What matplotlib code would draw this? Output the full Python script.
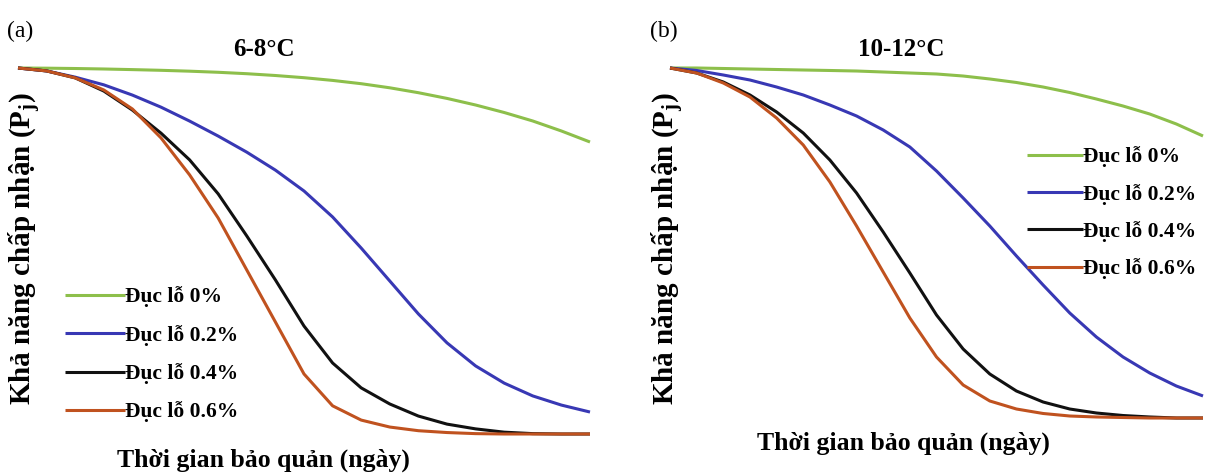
import matplotlib
matplotlib.use("Agg")
import matplotlib.pyplot as plt

# thoi gian bao quan (ngay) - truc x khong co vach chia
ngay = [0, 2, 4, 6, 8, 10, 12, 14, 16, 18, 20, 22, 24, 26, 28, 30, 32, 34, 36, 38, 40]

nhan = ["Đục lỗ 0%", "Đục lỗ 0.2%", "Đục lỗ 0.4%", "Đục lỗ 0.6%"]
mau = ["#8DBF4B", "#3838B4", "#111111", "#C0521F"]

# (a) 6-8oC
pa_0 = [1.000, 0.9995, 0.9986, 0.9973, 0.9956, 0.9937, 0.9913, 0.9883, 0.9844, 0.9795, 0.9735,
        0.9661, 0.9571, 0.9459, 0.9325, 0.9169, 0.8989, 0.8784, 0.8552, 0.8279, 0.7978]
pa_02 = [1.000, 0.992, 0.975, 0.954, 0.926, 0.893, 0.855, 0.814, 0.770, 0.721, 0.664,
         0.593, 0.508, 0.418, 0.328, 0.249, 0.186, 0.139, 0.104, 0.079, 0.060]
pa_04 = [1.000, 0.992, 0.973, 0.937, 0.885, 0.822, 0.749, 0.656, 0.541, 0.421, 0.295,
         0.194, 0.126, 0.082, 0.049, 0.027, 0.014, 0.005, 0.001, 0.0, 0.0]
pa_06 = [1.000, 0.992, 0.973, 0.940, 0.888, 0.809, 0.708, 0.590, 0.448, 0.306, 0.164,
         0.077, 0.038, 0.019, 0.009, 0.004, 0.001, 0.0, 0.0, 0.0, 0.0]

# (b) 10-12oC
pb_0 = [1.000, 1.000, 0.9986, 0.9971, 0.9957, 0.9943, 0.9929, 0.9914, 0.9886, 0.9857, 0.9829,
        0.9771, 0.9686, 0.9586, 0.9457, 0.930, 0.9114, 0.8914, 0.8686, 0.840, 0.8057]
pb_02 = [1.000, 0.9929, 0.980, 0.9657, 0.9457, 0.9229, 0.8943, 0.8629, 0.8229, 0.7743, 0.7057,
         0.6286, 0.5486, 0.4629, 0.380, 0.300, 0.2314, 0.1743, 0.1286, 0.0914, 0.0629]
pb_04 = [1.000, 0.9857, 0.960, 0.9229, 0.8743, 0.8143, 0.7371, 0.6429, 0.5314, 0.4143, 0.2943,
         0.1971, 0.1257, 0.0771, 0.0457, 0.0257, 0.0143, 0.0071, 0.0029, 0.0, 0.0]
pb_06 = [1.000, 0.9857, 0.9571, 0.9171, 0.8571, 0.780, 0.6743, 0.5486, 0.4171, 0.2857, 0.1743,
         0.0943, 0.0486, 0.0257, 0.0129, 0.0057, 0.0029, 0.0014, 0.0, 0.0, 0.0]

plt.rcParams['font.family'] = ['Liberation Serif', 'DejaVu Serif']
plt.rcParams['font.weight'] = 'bold'
plt.rcParams['mathtext.fontset'] = 'custom'
plt.rcParams['mathtext.rm'] = 'Liberation Serif:bold'
plt.rcParams['mathtext.it'] = 'Liberation Serif:bold'

W, H = 1218, 476
fig = plt.figure(figsize=(W / 100, H / 100), dpi=100)
ax1 = fig.add_axes([18 / W, 1 - 434 / H, 572 / W, 366 / H])
ax2 = fig.add_axes([670 / W, 1 - 418 / H, 533 / W, 350 / H])

def ve(ax, series, legend_xy, hl, ls):
    for y, lab, c in zip(series, nhan, mau):
        ax.plot(ngay, y, color=c, lw=2.2, label=lab, clip_on=False,
                solid_capstyle='butt', solid_joinstyle='round')
    ax.set_xlim(0, 40)
    ax.set_ylim(0, 1)
    ax.axis('off')
    ax.legend(loc='upper left', bbox_to_anchor=(legend_xy[0] / W, 1 - legend_xy[1] / H),
              bbox_transform=fig.transFigure, frameon=False,
              fontsize=15.5, handlelength=hl, handletextpad=0.0,
              labelspacing=ls, borderpad=0, borderaxespad=0)

ve(ax1, [pa_0, pa_02, pa_04, pa_06], (65, 286.5), 2.8, 0.81)
ve(ax2, [pb_0, pb_02, pb_04, pb_06], (1027, 146.5), 2.6, 0.76)

# tieu de va nhan
fig.text(264 / W, 1 - 50 / H, "6-8°C", ha='center', va='center', fontsize=18)
fig.text(901 / W, 1 - 50 / H, "10-12°C", ha='center', va='center', fontsize=18)
fig.text(7 / W, 1 - 31 / H, "(a)", ha='left', va='center', fontsize=17, fontweight='normal')
fig.text(650 / W, 1 - 31 / H, "(b)", ha='left', va='center', fontsize=17, fontweight='normal')

ylab = "Khả năng chấp nhận (P$_\\mathrm{j}$)"
fig.text(25 / W, 1 - 249 / H, ylab, rotation=90, ha='center', va='center', fontsize=21)
fig.text(668 / W, 1 - 249 / H, ylab, rotation=90, ha='center', va='center', fontsize=21)

xlab = "Thời gian bảo quản (ngày)"
fig.text(263 / W, 1 - 460 / H, xlab, ha='center', va='center', fontsize=18.5)
fig.text(903 / W, 1 - 443 / H, xlab, ha='center', va='center', fontsize=18.5)

fig.savefig("out.png", dpi=100)
